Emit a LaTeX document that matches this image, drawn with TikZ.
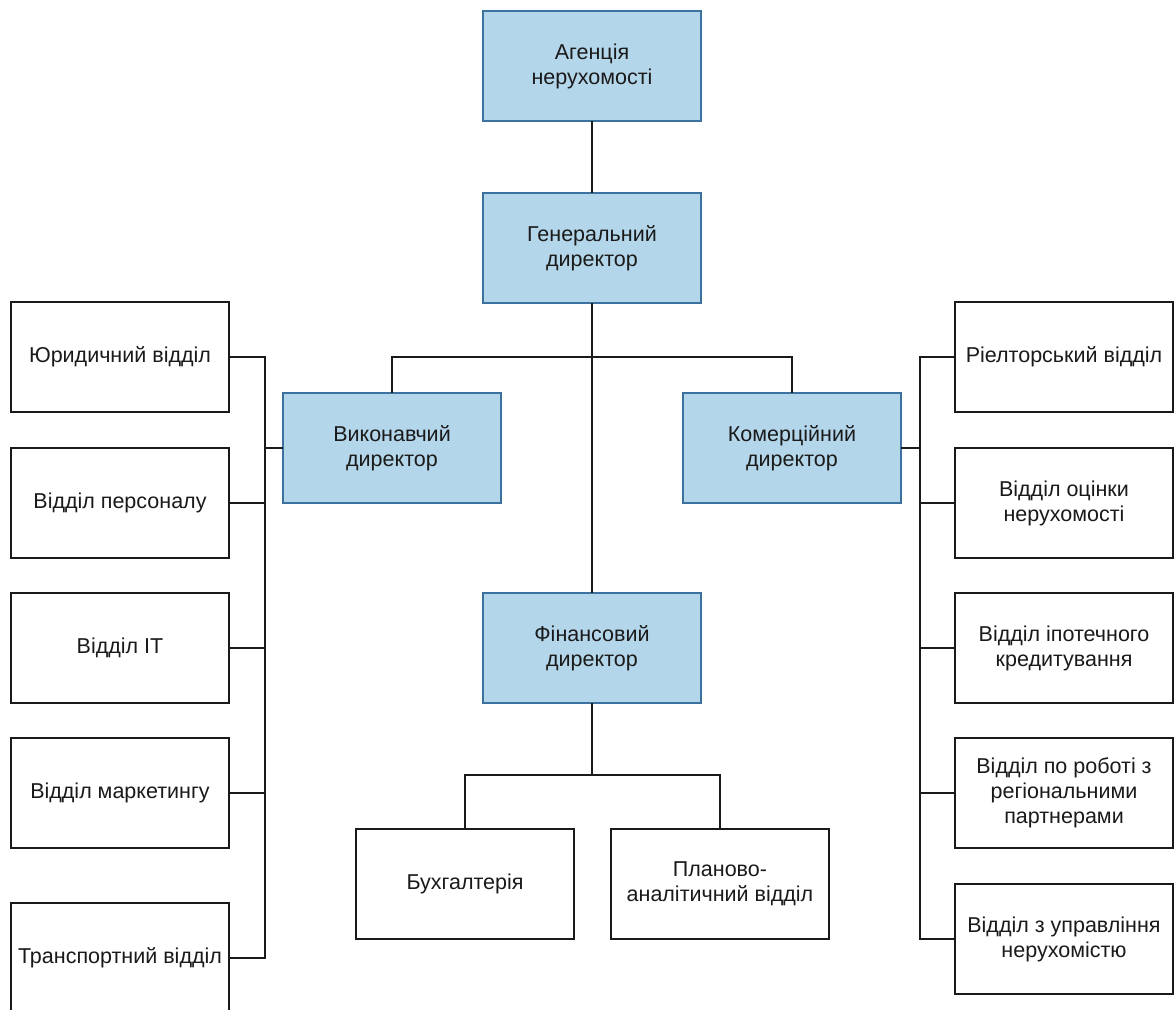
\documentclass[tikz,border=0pt]{standalone}
\usepackage{fontspec}
\setmainfont{Liberation Sans}
\definecolor{headfill}{HTML}{B4D6EA}
\definecolor{headline}{HTML}{3B72A0}
\definecolor{ink}{HTML}{1A1A1A}
\begin{document}
\begin{tikzpicture}[x=1pt,y=-1pt,
  box/.style={draw=ink,line width=2pt,fill=white,minimum width=218pt,minimum height=110pt,
    inner sep=2pt,outer sep=0pt,align=center,text=ink,
    font=\fontsize{21.5}{25}\selectfont},
  head/.style={box,draw=headline,fill=headfill},
  link/.style={draw=ink,line width=2pt}]
\clip (0,0) rectangle (1174,1009);
\fill[white] (0,0) rectangle (1174,1009);

% management chain
\node[head] (agency) at (592,66)  {Агенція\\нерухомості};
\node[head] (gen)    at (592,248) {Генеральний\\директор};
\node[head] (exec)   at (392,448) {Виконавчий\\директор};
\node[head] (comm)   at (792,448) {Комерційний\\директор};
\node[head] (fin)    at (592,648) {Фінансовий\\директор};

% finance departments
\node[box] (buh)  at (465,884) {Бухгалтерія};
\node[box] (plan) at (720,884) {Планово-\\аналітичний відділ};

% executive departments
\node[box] (l1) at (120,357) {Юридичний відділ};
\node[box] (l2) at (120,503) {Відділ персоналу};
\node[box] (l3) at (120,648) {Відділ IT};
\node[box] (l4) at (120,793) {Відділ маркетингу};
\node[box] (l5) at (120,958) {Транспортний відділ};

% commercial departments
\node[box] (r1) at (1064,357) {Ріелторський відділ};
\node[box] (r2) at (1064,503) {Відділ оцінки\\нерухомості};
\node[box] (r3) at (1064,648) {Відділ іпотечного\\кредитування};
\node[box] (r4) at (1064,793) {Відділ по роботі з\\регіональними\\партнерами};
\node[box] (r5) at (1064,939) {Відділ з управління\\нерухомістю};

% trunk
\draw[link] (agency.south) -- (gen.north);
\draw[link] (gen.south) -- (fin.north);
\coordinate (split) at (592,357);
\draw[link] (exec.north) |- (split) -| (comm.north);

% finance branch
\coordinate (fj) at (592,775);
\draw[link] (fin.south) -- (fj);
\draw[link] (buh.north) |- (fj) -| (plan.north);

% left bus
\coordinate (bl) at (265,0);
\draw[link] (l1.east) -- (l1.east -| bl) -- (l5.east -| bl) -- (l5.east);
\foreach \n in {l2,l3,l4}
  \draw[link] (\n.east) -- (\n.east -| bl);
\draw[link] (exec.west) -- (exec.west -| bl);

% right bus
\coordinate (br) at (920,0);
\draw[link] (r1.west) -- (r1.west -| br) -- (r5.west -| br) -- (r5.west);
\foreach \n in {r2,r3,r4}
  \draw[link] (\n.west) -- (\n.west -| br);
\draw[link] (comm.east) -- (comm.east -| br);
\end{tikzpicture}
\end{document}
